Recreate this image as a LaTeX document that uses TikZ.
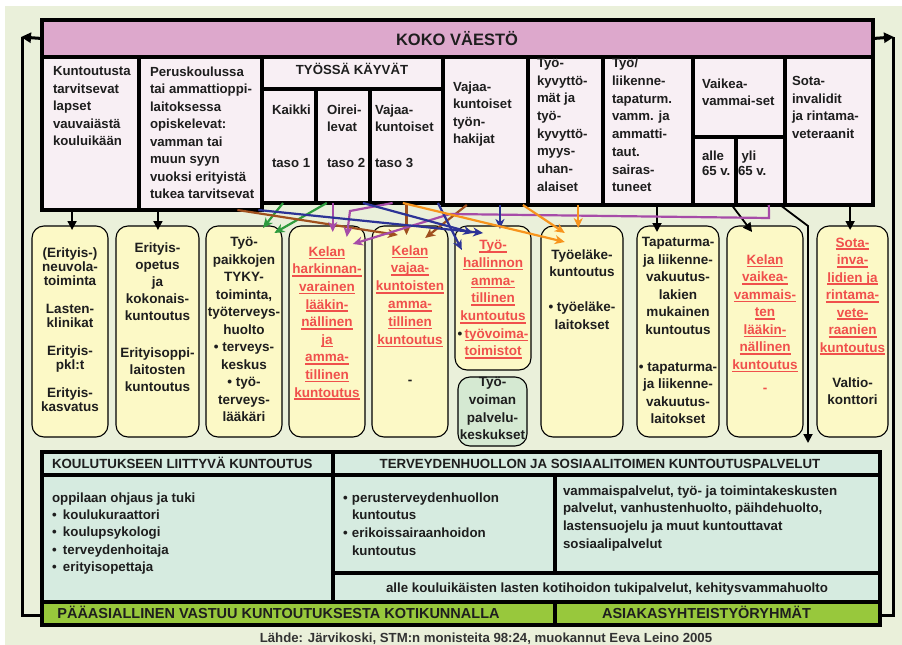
\documentclass[tikz,border=0pt]{standalone}
\usepackage{fontspec}
\setmainfont{Liberation Sans}
\usetikzlibrary{arrows.meta,calc}
\definecolor{bg}{HTML}{EAF0DA}
\definecolor{pinkband}{HTML}{DDA8CC}
\definecolor{pinkbox}{HTML}{F8EFF4}
\definecolor{yel}{HTML}{FCF9C6}
\definecolor{mint}{HTML}{D5E9D2}
\definecolor{tealc}{HTML}{D6EBE0}
\definecolor{gbar}{HTML}{98C83C}
\definecolor{redt}{HTML}{F0504C}
\definecolor{agreen}{HTML}{2E9B3E}
\definecolor{apurple}{HTML}{A64CA8}
\definecolor{abrown}{HTML}{A0501E}
\definecolor{ablue}{HTML}{2C3396}
\definecolor{aorange}{HTML}{F7941D}
\definecolor{ink}{HTML}{1E1E1E}
\definecolor{capc}{HTML}{333333}
\newcommand\fs[2]{\bfseries\fontsize{#1}{#2}\selectfont}
\newcommand\kelaul[1]{\setbox0\hbox{#1}\rlap{\rule[-3pt]{\wd0}{1.6pt}}\box0}
\newcommand\mkcell[6]{\node[#1, anchor=north west, minimum width={(#4)-(#2)}, minimum height={(#5)-(#3)}] (#6) at (#2,#3) {};}
\begin{document}
\begin{tikzpicture}[x=1pt,y=-1pt,
  topbox/.style={draw=black, line width=3.5pt, fill=pinkbox, inner sep=0pt, outer sep=0pt},
  bandbox/.style={topbox, fill=pinkband},
  midbox/.style={draw=black, line width=1.1pt, fill=yel, rounded corners=12pt, inner sep=0pt, outer sep=0pt},
  greenbox/.style={midbox, fill=mint},
  botbox/.style={draw=black, line width=3.5pt, fill=tealc, inner sep=0pt, outer sep=0pt},
  barbox/.style={draw=black, line width=3.5pt, fill=gbar, inner sep=0pt, outer sep=0pt},
  tx/.style={inner sep=0pt, outer sep=0pt, text=ink, align=left, anchor=north west, execute at begin node=\strut},
  mtx/.style={tx, align=center, anchor=north},
  redtx/.style={mtx, text=redt},
  one/.style={inner sep=0pt, outer sep=0pt, text=ink},
  blk/.style={draw=black, line width=1.8pt, -{Triangle[length=9pt,width=9pt]}},
  col/.style={line width=2.2pt, -{Stealth[length=10pt,width=9pt,inset=3pt]}},
  cg/.style={col, draw=agreen},
  cp/.style={col, draw=apurple},
  cb/.style={col, draw=abrown},
  cn/.style={col, draw=ablue},
  co/.style={col, draw=aorange},
  loopln/.style={draw=black, line width=3pt}
]
\useasboundingbox (0,0) rectangle (902,645);
\fill[bg] (5,6) rectangle (902,645);

% ---------- top band and population boxes ----------
\mkcell{bandbox}{42}{20}{873}{57}{koko}
\mkcell{topbox}{42}{57}{139}{210}{kunt}
\mkcell{topbox}{139}{57}{262}{210}{perus}
\mkcell{topbox}{262}{57}{443}{89}{tyossa}
\mkcell{topbox}{262}{89}{316}{203}{kaikki}
\mkcell{topbox}{316}{89}{370}{203}{oirei}
\mkcell{topbox}{370}{89}{443}{203}{vajaa3}
\mkcell{topbox}{443}{57}{528}{205}{vtyonh}
\mkcell{topbox}{528}{57}{603}{205}{tkyv}
\mkcell{topbox}{603}{57}{693}{205}{tyoli}
\mkcell{topbox}{693}{57}{785}{137}{vaikea}
\mkcell{topbox}{693}{137}{736}{205}{alle}
\mkcell{topbox}{736}{137}{785}{205}{yli}
\mkcell{topbox}{785}{57}{873}{205}{sota}

% ---------- middle service boxes ----------
\mkcell{midbox}{32}{226}{108}{437}{m1}
\mkcell{midbox}{116}{226}{199}{437}{m2}
\mkcell{midbox}{206}{226}{282}{437}{m3}
\mkcell{midbox}{289}{226}{365}{437}{m4}
\mkcell{midbox}{372}{226}{448}{437}{m5}
\mkcell{midbox}{455}{226}{531}{370}{m6}
\mkcell{greenbox}{458}{377}{527}{446}{m6b}
\mkcell{midbox}{541}{226}{623}{437}{m7}
\mkcell{midbox}{637}{226}{719}{437}{m8}
\mkcell{midbox}{727}{226}{803}{437}{m9}
\mkcell{midbox}{817}{226}{888}{437}{m10}

% ---------- bottom section ----------
\mkcell{botbox}{42}{452}{333}{475}{bhead1}
\mkcell{botbox}{333}{452}{880}{475}{bhead2}
\mkcell{botbox}{42}{475}{333}{602}{bleft}
\mkcell{botbox}{333}{475}{555}{573}{bmid}
\mkcell{botbox}{555}{475}{880}{573}{bright}
\mkcell{botbox}{333}{573}{880}{602}{balle}
\mkcell{barbox}{42}{602}{555}{625}{gleft}
\mkcell{barbox}{555}{602}{880}{625}{gright}

% ---------- outer loop lines ----------
\coordinate (lc1) at (21,37);
\coordinate (lc2) at (22,615);
\coordinate (rc1) at (894,37);
\coordinate (rc2) at (893,615);
\draw[loopln, -{Triangle[length=10pt,width=10pt]}] (koko.west) -- (lc1);
\draw[loopln] (22,37) -- (lc2) -- (lc2 -| gleft.west);
\draw[loopln, -{Triangle[length=10pt,width=10pt]}] (koko.east) -- (rc1);
\draw[loopln] (893,37) -- (rc2) -- (rc2 -| gright.east);

% ---------- connectors ----------
% black
\draw[blk] ($(kunt.south west)!0.31!(kunt.south east)$) coordinate (k1) -- ($(k1 |- m1.north)+(0,4)$);
\draw[blk] ($(perus.south west)!0.154!(perus.south east)$) coordinate (k2) -- ($(k2 |- m2.north)+(0,4)$);
\draw[blk] ($(tyoli.south west)!0.6!(tyoli.south east)$) coordinate (k3) -- ($(k3 |- m8.north)+(0,6)$);
\draw[blk] ($(alle.south west)!0.9!(alle.south east)$) -- ($(m9.north west)!0.33!(m9.north east)+(0,6)$);
\coordinate (kdown) at (808,443);
\draw[blk] ($(yli.south west)!0.9!(yli.south east)$) -- (808,226) -- (kdown);
\draw[blk] ($(sota.south west)!0.74!(sota.south east)$) coordinate (k6) -- ($(k6 |- m10.north)+(0,4)$);
% green
\draw[cg] ($(kaikki.south west)!0.39!(kaikki.south east)$) -- ($(m3.north west)!0.75!(m3.north east)+(0,2)$);
\draw[cg] ($(oirei.south west)!0.2!(oirei.south east)$) -- ($(m3.north west)!0.9!(m3.north east)+(0,7)$);
% brown
\draw[cb] ($(perus.south west)!0.8!(perus.south east)$) -- ($(m5.north west)!0.34!(m5.north east)+(0,9)$);
\draw[cb] ($(vajaa3.south west)!0.5!(vajaa3.south east)$) coordinate (b2) -- ($(b2 |- m5.north)+(0,9)$);
\draw[cb] ($(vtyonh.south west)!0.28!(vtyonh.south east)$) -- ($(m5.north west)!0.7!(m5.north east)+(0,12)$);
% purple
\draw[cp] ($(oirei.south west)!0.31!(oirei.south east)$) coordinate (p1) -- ($(p1 |- m4.north)+(0,6)$);
\draw[cp] ($(vajaa3.south west)!0.31!(vajaa3.south east)$) -- (350,211) -- ($(m4.north west)!0.76!(m4.north east)+(0,11)$);
\draw[cp] ($(yli.south west)!0.67!(yli.south east)$) -- (769,218) -- (450,214) -- ($(m4.north west)!0.84!(m4.north east)+(0,18)$);
% blue
\draw[cn] ($(perus.south west)!0.97!(perus.south east)$) -- ($(m6.north west)!0.37!(m6.north east)+(0,7)$);
\draw[cn] ($(oirei.south west)!0.87!(oirei.south east)$) -- ($(m6.north west)!0.24!(m6.north east)+(0,7)$);
\draw[cn] ($(vajaa3.south west)!0.93!(vajaa3.south east)$) -- ($(m6.north west)!0.09!(m6.north east)+(0,24)$);
\draw[cn] ($(vtyonh.south west)!0.67!(vtyonh.south east)$) coordinate (n4) -- ($(n4 |- m6.north)+(0,3)$);
% orange
\draw[co] ($(vajaa3.south west)!0.45!(vajaa3.south east)$) -- ($(m7.north west)!0.29!(m7.north east)+(0,16)$);
\draw[co] ($(vtyonh.south west)!0.94!(vtyonh.south east)$) -- ($(m7.north west)!0.29!(m7.north east)+(0,7)$);
\draw[co] ($(tkyv.south west)!0.67!(tkyv.south east)$) coordinate (o3) -- ($(o3 |- m7.north)+(0,2)$);

% ---------- texts: top ----------
\node[one, font=\fs{16.5}{19}, anchor=base] (tkoko) at (457,45.9) {KOKO VÄESTÖ};
\node[tx, font=\fs{13.2}{17.5}] (tkunt) at (53,66.5) {Kuntoutusta\\tarvitsevat\\lapset\\vauvaiästä\\kouluikään};
\node[tx, font=\fs{13.2}{17.5}] (tperus) at (150,66.5) {Peruskoulussa\\tai ammattioppi-\\laitoksessa\\opiskelevat:\\vamman tai\\muun syyn\\vuoksi erityistä\\tukea tarvitsevat};
\node[one, font=\fs{13.2}{17.5}, anchor=base] (ttyossa) at (352,74.7) {TYÖSSÄ KÄYVÄT};
\node[tx, font=\fs{13.2}{17.5}] (tkaikki) at (272,104.5) {Kaikki\\[35.5pt]taso 1};
\node[tx, font=\fs{13.2}{17.5}] (toirei) at (327,104.5) {Oirei-\\levat\\[18.5pt]taso 2};
\node[tx, font=\fs{13.2}{17.5}] (tvajaa3) at (375,104.5) {Vajaa-\\kuntoiset\\[18.5pt]taso 3};
\node[tx, font=\fs{13.2}{17.5}] (tvtyonh) at (453,81.5) {Vajaa-\\kuntoiset\\työn-\\hakijat};
\node[tx, font=\fs{13.2}{17.7}] (ttkyv) at (537,58.3) {Työ-\\kyvyttö-\\mät ja\\työ-\\kyvyttö-\\myys-\\uhan-\\alaiset};
\node[tx, font=\fs{13.2}{17.7}] (ttyoli) at (612,58.3) {Työ/\\liikenne-\\tapaturm.\\vamm. ja\\ammatti-\\taut.\\sairas-\\tuneet};
\node[tx, font=\fs{13.2}{17.5}] (tvaikea) at (702,78.5) {Vaikea-\\vammai-set};
\node[tx, font=\fs{13.2}{15}] (talle) at (702,151.2) {alle\\65 v.};
\node[tx, font=\fs{13.2}{15}] (tyli) at (738,151.2) {\hspace*{3.5pt}yli\\65 v.};
\node[tx, font=\fs{13.2}{17.5}] (tsota) at (792,76.5) {Sota-\\invalidit\\ja rintama-\\veteraanit};

% ---------- texts: middle ----------
\node[mtx, font=\fs{13.5}{14}] (tm1) at (70,248) {(Erityis-)\\neuvola-\\toiminta\\[14pt]Lasten-\\klinikat\\[14pt]Erityis-\\pkl:t\\[14pt]Erityis-\\kasvatus};
\node[mtx, font=\fs{13.5}{17}] (tm2) at (157.5,242.9) {Erityis-\\opetus\\ja\\kokonais-\\kuntoutus\\[20pt]Erityisoppi-\\laitosten\\kuntoutus};
\node[mtx, font=\fs{13.5}{17.5}] (tm3) at (244,237.6) {Työ-\\paikkojen\\TYKY-\\toiminta,\\työterveys-\\huolto\\• terveys-\\keskus\\• työ-\\terveys-\\lääkäri};
\node[redtx, font=\fs{13.5}{17.6}] (tm4) at (327,246.5) {\kelaul{Kelan}\\\kelaul{harkinnan-}\\\kelaul{varainen}\\\kelaul{lääkin-}\\\kelaul{nällinen}\\\kelaul{ja}\\\kelaul{amma-}\\\kelaul{tillinen}\\\kelaul{kuntoutus}};
\node[redtx, font=\fs{13.5}{17.8}] (tm5) at (410,245.4) {\kelaul{Kelan}\\\kelaul{vajaa-}\\\kelaul{kuntoisten}\\\kelaul{amma-}\\\kelaul{tillinen}\\\kelaul{kuntoutus}\\[23pt]\textcolor{ink}{-}};
\node[redtx, font=\fs{13.5}{17.7}] (tm6) at (493,240.4) {\kelaul{Työ-}\\\kelaul{hallinnon}\\\kelaul{amma-}\\\kelaul{tillinen}\\\kelaul{kuntoutus}\\\textcolor{ink}{•}\,\kelaul{työvoima-}\\\kelaul{toimistot}};
\node[mtx, font=\fs{13.5}{17.7}] (tm6b) at (492.5,377.4) {Työ-\\voiman\\palvelu-\\keskukset};
\node[mtx, font=\fs{13.5}{17.7}] (tm7) at (582,249.4) {Työeläke-\\kuntoutus\\[17.3pt]• työeläke-\\laitokset};
\node[mtx, font=\fs{13.5}{17.5}] (tm8) at (678,237.6) {Tapaturma-\\ja liikenne-\\vakuutus-\\lakien\\mukainen\\kuntoutus\\[19.5pt]• tapaturma-\\ja liikenne-\\vakuutus-\\laitokset};
\node[redtx, font=\fs{13.5}{17.5}] (tm9) at (765,254.6) {\kelaul{Kelan}\\\kelaul{vaikea-}\\\kelaul{vammais-}\\\kelaul{ten}\\\kelaul{lääkin-}\\\kelaul{nällinen}\\\kelaul{kuntoutus}\\[5.5pt]-};
\node[redtx, font=\fs{13.5}{17.5}] (tm10) at (852.5,237.6) {\kelaul{Sota-}\\\kelaul{inva-}\\\kelaul{lidien ja}\\\kelaul{rintama-}\\\kelaul{vete-}\\\kelaul{raanien}\\\kelaul{kuntoutus}\\[17.5pt]\textcolor{ink}{Valtio-}\\\textcolor{ink}{konttori}};

% ---------- texts: bottom ----------
\node[one, font=\fs{13.3}{17}, anchor=base west] (tbh1) at (52,468.8) {KOULUTUKSEEN LIITTYVÄ KUNTOUTUS};
\node[one, font=\fs{13.3}{17}, anchor=base] (tbh2) at (600,468.8) {TERVEYDENHUOLLON JA SOSIAALITOIMEN KUNTOUTUSPALVELUT};
\node[tx, font=\fs{13.3}{17.3}] (tbl) at (52,492.6) {oppilaan ohjaus ja tuki\\\makebox[11pt][l]{•}koulukuraattori\\\makebox[11pt][l]{•}koulupsykologi\\\makebox[11pt][l]{•}terveydenhoitaja\\\makebox[11pt][l]{•}erityisopettaja};
\node[tx, font=\fs{13.3}{17.7}] (tbm) at (343,492.4) {\makebox[9pt][l]{•}perusterveydenhuollon\\\hspace*{9pt}kuntoutus\\\makebox[9pt][l]{•}erikoissairaanhoidon\\\hspace*{9pt}kuntoutus};
\node[tx, font=\fs{13.3}{17.7}] (tbr) at (563,485.4) {vammaispalvelut, työ- ja toimintakeskusten\\palvelut, vanhustenhuolto, päihdehuolto,\\lastensuojelu ja muut kuntouttavat\\sosiaalipalvelut};
\node[one, font=\fs{13.3}{17}, anchor=base] (tba) at (607,592.8) {alle kouluikäisten lasten kotihoidon tukipalvelut, kehitysvammahuolto};
\node[one, font=\fs{14.5}{17}, anchor=base] (tgl) at (278.5,618.2) {PÄÄASIALLINEN VASTUU KUNTOUTUKSESTA KOTIKUNNALLA};
\node[one, font=\fs{14.5}{17}, anchor=base] (tgr) at (706.5,618.2) {ASIAKASYHTEISTYÖRYHMÄT};
\node[one, font=\fs{13.2}{15}, anchor=base, text=capc] (tcap) at (486,642.8) {Lähde: Järvikoski, STM:n monisteita 98:24, muokannut Eeva Leino 2005};
\end{tikzpicture}
\end{document}
